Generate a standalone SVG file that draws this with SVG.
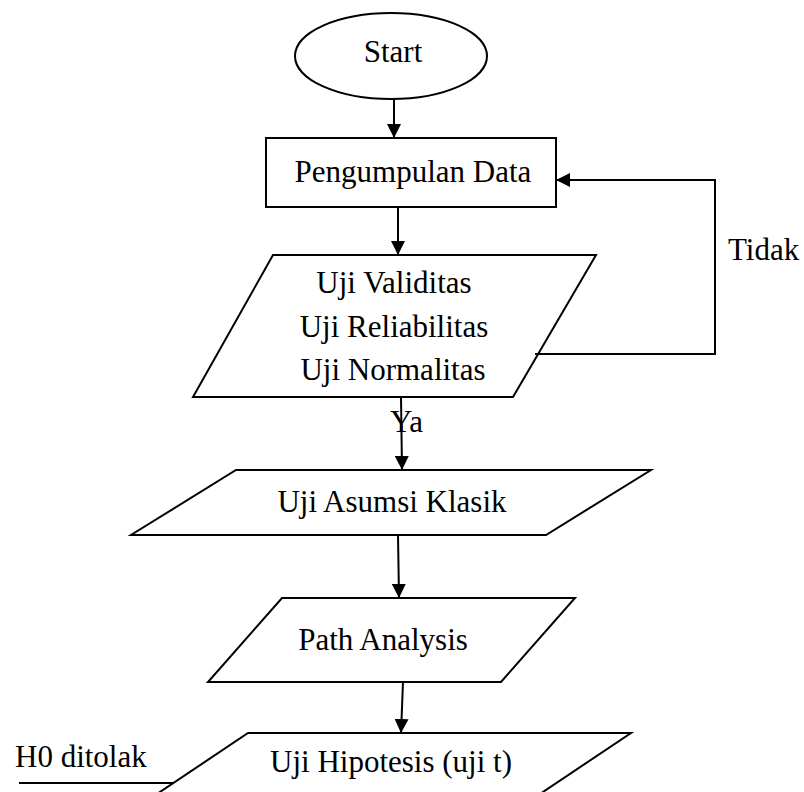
<svg xmlns="http://www.w3.org/2000/svg" width="804" height="792" viewBox="0 0 804 792">
<style>
.s{fill:#fff;stroke:#000;stroke-width:2}
.t{font-family:"Liberation Serif","Times New Roman",serif;font-size:31px;fill:#000}
.c{text-anchor:middle}
.l{fill:none;stroke:#000;stroke-width:2}
</style>
<defs>
<marker id="ah" markerWidth="14" markerHeight="14" refX="14" refY="7" orient="auto" markerUnits="userSpaceOnUse">
<path d="M0,0 L14,7 L0,14 Z" fill="#000"/>
</marker>
</defs>
<rect width="804" height="792" fill="#fff"/>
<g id="start">
<ellipse class="s" cx="391" cy="56" rx="96" ry="43"/>
<text class="t c" x="393" y="62">Start</text>
</g>
<g id="pengumpulan">
<rect class="s" x="266" y="138" width="290" height="69"/>
<text class="t c" x="413" y="182">Pengumpulan Data</text>
</g>
<g id="uji-validitas">
<polygon class="s" points="273,255 596,255 513,397 193,397"/>
<text class="t c" x="394" y="293">Uji Validitas</text>
<text class="t c" x="394" y="337">Uji Reliabilitas</text>
<text class="t c" x="393" y="380">Uji Normalitas</text>
</g>
<g id="uji-asumsi">
<polygon class="s" points="236,470 651,470 546,535 131,535"/>
<text class="t c" x="392" y="512">Uji Asumsi Klasik</text>
</g>
<g id="path-analysis">
<polygon class="s" points="282,598 575,598 501,682 208,682"/>
<text class="t c" x="383" y="650">Path Analysis</text>
</g>
<g id="uji-hipotesis">
<polygon class="s" points="248,733 631,733 531,800 148,800"/>
<text class="t c" x="391" y="772">Uji Hipotesis (uji t)</text>
</g>
<g id="connectors">
<line class="l" x1="394" y1="99" x2="394" y2="138" marker-end="url(#ah)"/>
<line class="l" x1="398" y1="207" x2="398" y2="255" marker-end="url(#ah)"/>
<polyline class="l" points="535,354 715,354 715,180 556,180" marker-end="url(#ah)"/>
<line class="l" x1="401" y1="397" x2="402" y2="470" marker-end="url(#ah)"/>
<line class="l" x1="398" y1="535" x2="399" y2="598" marker-end="url(#ah)"/>
<line class="l" x1="403" y1="682" x2="401" y2="733" marker-end="url(#ah)"/>
<line class="l" x1="19" y1="783" x2="174" y2="783"/>
</g>
<g id="labels">
<text class="t" x="390" y="432">Ya</text>
<text class="t" x="728" y="260">Tidak</text>
<text class="t" x="15" y="767">H0 ditolak</text>
</g>
</svg>
